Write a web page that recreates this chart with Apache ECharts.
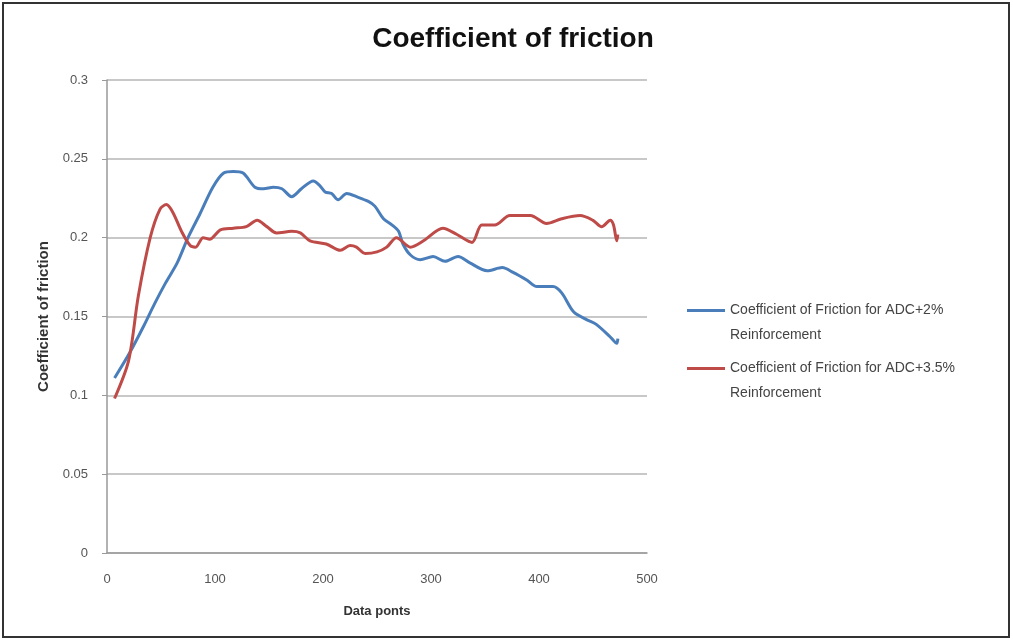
<!DOCTYPE html>
<html>
<head>
<meta charset="utf-8">
<script src="https://cdn.jsdelivr.net/npm/echarts@6/dist/echarts.min.js"></script>
<style>html,body{margin:0;padding:0;background:#fff;}#c{width:1013px;height:642px;}</style>
</head>
<body>
<div id="c"></div>
<script>
const xBlue = [7,21,34,44,54,65,75,86,98,108,117,126,137,145,154,162,171,180,191,197,202,208,214,222,231,242,248,256,264,270,274,281,290,302,313,325,336,352,366,376,389,398,413,421,432,444,453,466,472,473];
const yBlue = [0.111,0.127,0.144,0.158,0.171,0.184,0.200,0.215,0.232,0.241,0.242,0.241,0.232,0.231,0.232,0.231,0.226,0.231,0.236,0.233,0.229,0.228,0.224,0.228,0.226,0.223,0.220,0.212,0.208,0.204,0.196,0.189,0.186,0.188,0.185,0.188,0.184,0.179,0.181,0.178,0.173,0.169,0.169,0.165,0.153,0.148,0.145,0.137,0.133,0.136];
const xRed = [7,20,29,40,49,55,61,69,77,82,89,95,105,117,129,139,148,157,171,179,188,203,216,225,231,239,250,259,268,281,293,311,324,338,347,359,373,392,407,421,438,450,458,466,469,472,473];
const yRed = [0.098,0.122,0.163,0.200,0.218,0.221,0.216,0.204,0.195,0.194,0.200,0.199,0.205,0.206,0.207,0.211,0.207,0.203,0.204,0.203,0.198,0.196,0.192,0.195,0.194,0.190,0.191,0.194,0.200,0.194,0.198,0.206,0.202,0.197,0.208,0.208,0.214,0.214,0.209,0.212,0.214,0.211,0.207,0.211,0.208,0.198,0.202];
const seriesNames = ['Coefficient of Friction for ADC+2%\nReinforcement','Coefficient of Friction for ADC+3.5%\nReinforcement'];
const xTicks = {min:0, max:500, interval:100};
const yTicks = {min:0, max:0.3, interval:0.05};

const chart = echarts.init(document.getElementById('c'));
const pairs = (xs, ys) => xs.map((x,i)=>[x, ys[i]]);
const font = '"Liberation Sans Narrow","Liberation Sans",sans-serif';
chart.setOption({
  animation:false,
  backgroundColor:'#fff',
  title:{text:'Coefficient of friction', left:508, top:20, textAlign:'center',
    textStyle:{fontFamily:font, fontSize:28, fontWeight:'bold', color:'#111'}},
  graphic:[{type:'rect', shape:{x:3,y:3,width:1006,height:634}, style:{fill:'none', stroke:'#333', lineWidth:2}, silent:true}],
  grid:{left:107, right:366, top:80, bottom:89},
  legend:{orient:'vertical', left:687, top:273, padding:0, itemWidth:38, itemHeight:3, itemGap:-17, icon:'rect',
    formatter:(n)=>' \n'+n,
    textStyle:{fontFamily:font, fontSize:14, color:'#444', lineHeight:25},
    data:seriesNames},
  xAxis:{type:'value', min:xTicks.min, max:xTicks.max, interval:xTicks.interval,
    name:'Data ponts', nameLocation:'middle', nameGap:52,
    nameTextStyle:{fontFamily:font, fontSize:13, fontWeight:'bold', color:'#333'},
    axisLine:{lineStyle:{color:'#999', width:1.5}}, axisTick:{show:false},
    splitLine:{show:false},
    axisLabel:{fontFamily:font, fontSize:13, color:'#555', margin:20}},
  yAxis:{type:'value', min:yTicks.min, max:yTicks.max, interval:yTicks.interval,
    name:'Coefficient of friction', nameLocation:'middle', nameGap:50,
    nameTextStyle:{fontFamily:font, fontSize:15, fontWeight:'bold', color:'#333'},
    axisLine:{show:true, lineStyle:{color:'#999', width:1.5}},
    axisTick:{show:true, length:5, lineStyle:{color:'#999'}},
    splitLine:{lineStyle:{color:'#c8c8c8', width:2}},
    axisLabel:{fontFamily:font, fontSize:13, color:'#555', margin:19}},
  series:[
    {name:seriesNames[0], type:'line', data:pairs(xBlue,yBlue), smooth:0.3, showSymbol:false,
      lineStyle:{color:'#4a7ebb', width:3}, itemStyle:{color:'#4a7ebb'}},
    {name:seriesNames[1], type:'line', data:pairs(xRed,yRed), smooth:0.3, showSymbol:false,
      lineStyle:{color:'#be4b48', width:3}, itemStyle:{color:'#be4b48'}}
  ]
});
</script>
</body>
</html>
